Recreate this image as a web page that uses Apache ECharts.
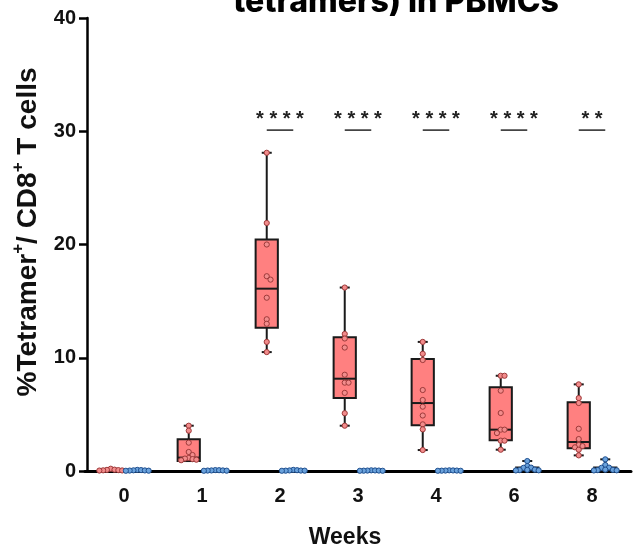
<!DOCTYPE html>
<html>
<head>
<meta charset="utf-8">
<script src="https://cdn.jsdelivr.net/npm/echarts@6/dist/echarts.min.js"></script>
<style>
html,body{margin:0;padding:0;background:#fff;}
#chart{width:636px;height:553px;}
</style>
</head>
<body>
<div id="chart"></div>
<script>
// ---- data ----
const weeks = ['0', '1', '2', '3', '4', '6', '8'];
const yTicks = [0, 10, 20, 30, 40];

// individual values, vaccinated group (red)
const redPoints = [
  [0.2, 0.12, 0.1, 0.08, 0.06, 0.05, 0.04],
  [4.0, 3.56, 2.5, 1.68, 1.41, 1.15, 1.1, 1.05, 1.0, 0.95],
  [28.1, 21.9, 20.0, 17.2, 16.9, 15.3, 13.4, 13.0, 11.4, 10.5],
  [16.2, 12.1, 11.7, 10.9, 8.5, 7.8, 7.8, 6.9, 5.1, 4.0],
  [11.4, 10.35, 9.8, 7.15, 6.27, 5.68, 4.9, 4.12, 3.68, 1.85],
  [8.41, 8.41, 7.09, 5.12, 3.65, 3.65, 3.35, 2.68, 2.68, 1.88],
  [7.65, 6.44, 6.0, 3.73, 2.82, 2.3, 2.2, 2.09, 1.88, 1.38]
];
// individual values, control group (blue)
const bluePoints = [
  [0.1, 0.08, 0.06, 0.05, 0.04, 0.03, 0.02],
  [0.08, 0.07, 0.05, 0.05, 0.04, 0.03, 0.02],
  [0.1, 0.07, 0.05, 0.04, 0.03, 0.03, 0.02],
  [0.06, 0.05, 0.04, 0.04, 0.03, 0.02, 0.02],
  [0.06, 0.05, 0.04, 0.04, 0.03, 0.02, 0.02],
  [0.88, 0.44, 0.3, 0.28, 0.12, 0.1, 0.08, 0.06, 0.05],
  [1.03, 0.53, 0.3, 0.28, 0.12, 0.1, 0.08, 0.06, 0.05]
];
// box statistics [min, q1, median, q3, max]
const redBox = [
  [0.04, 0.05, 0.08, 0.12, 0.2],
  [0.88, 0.88, 1.18, 2.8, 4.0],
  [10.5, 12.65, 16.1, 20.45, 28.1],
  [4.0, 6.45, 8.15, 11.8, 16.2],
  [1.85, 4.05, 6.0, 9.9, 11.4],
  [1.88, 2.72, 3.65, 7.4, 8.41],
  [1.38, 2.0, 2.56, 6.08, 7.65]
];
const blueBox = [
  [0.02, 0.03, 0.04, 0.07, 0.1],
  [0.02, 0.03, 0.05, 0.07, 0.08],
  [0.02, 0.03, 0.04, 0.07, 0.1],
  [0.02, 0.02, 0.04, 0.05, 0.06],
  [0.02, 0.02, 0.04, 0.05, 0.06],
  [0.05, 0.07, 0.12, 0.3, 0.88],
  [0.05, 0.07, 0.12, 0.3, 1.03]
];
// significance between groups per week
const sigLabels = ['', '', '****', '****', '****', '****', '**'];
const sigLevel = 30.1;

// ---- layout / style constants ----
const FONT = 'Liberation Sans, Arial, sans-serif';
const GRID = {left: 85, right: 5, top: 18, bottom: 82};
const Y_MAX = 40;
const PX_PER_UNIT = (553 - GRID.top - GRID.bottom) / Y_MAX;
const DOT_R = 2.6;
const SWARM_STEP = 3.8;
const GROUP_OFF = 0.17;   // fraction of band
const BOX_W = 0.285;      // fraction of band

// simple beeswarm offsets (in px) so overlapping dots spread sideways
function swarm(values) {
  const placed = [];
  return values.map(v => {
    const y = v * PX_PER_UNIT;
    for (let k = 0; k < 30; k++) {
      const cand = k === 0 ? 0 : (k % 2 ? 1 : -1) * Math.ceil(k / 2) * SWARM_STEP;
      if (placed.every(p => Math.hypot(p.x - cand, p.y - y) >= SWARM_STEP - 0.01)) {
        placed.push({x: cand, y});
        return cand;
      }
    }
    return 0;
  });
}

function pointData(groups) {
  const out = [];
  groups.forEach((vals, i) => {
    const offs = swarm(vals);
    vals.forEach((v, j) => out.push([i, v, offs[j]]));
  });
  return out;
}
function boxData(stats) {
  return stats.map((s, i) => [i].concat(s));
}

function boxRender(fill, sign) {
  return function (params, api) {
    const c = api.value(0);
    const band = api.size([1, 0])[0];
    const w = band * BOX_W;
    const x = api.coord([c, 0])[0] + sign * band * GROUP_OFF;
    const yMin = api.coord([c, api.value(1)])[1];
    const yQ1 = api.coord([c, api.value(2)])[1];
    const yMed = api.coord([c, api.value(3)])[1];
    const yQ3 = api.coord([c, api.value(4)])[1];
    const yMax = api.coord([c, api.value(5)])[1];
    const cap = w * 0.45;
    const ls = {stroke: '#1a1a1a', lineWidth: 2};
    return {
      type: 'group',
      children: [
        {type: 'line', shape: {x1: x, y1: yQ3, x2: x, y2: yMax}, style: ls},
        {type: 'line', shape: {x1: x, y1: yQ1, x2: x, y2: yMin}, style: ls},
        {type: 'line', shape: {x1: x - cap / 2, y1: yMax, x2: x + cap / 2, y2: yMax}, style: ls},
        {type: 'line', shape: {x1: x - cap / 2, y1: yMin, x2: x + cap / 2, y2: yMin}, style: ls},
        {type: 'rect', shape: {x: x - w / 2, y: yQ3, width: w, height: yQ1 - yQ3},
          style: {fill: fill, stroke: '#1a1a1a', lineWidth: 2}},
        {type: 'line', shape: {x1: x - w / 2, y1: yMed, x2: x + w / 2, y2: yMed}, style: ls}
      ]
    };
  };
}

function dotRender(fill, stroke, sign) {
  return function (params, api) {
    const c = api.value(0);
    const band = api.size([1, 0])[0];
    const p = api.coord([c, api.value(1)]);
    return {
      type: 'circle',
      shape: {cx: p[0] + sign * band * GROUP_OFF + api.value(2), cy: p[1], r: DOT_R},
      style: {fill: fill, stroke: stroke, lineWidth: 1}
    };
  };
}

function sigRender(params, api) {
  const c = api.value(0);
  const band = api.size([1, 0])[0];
  const p = api.coord([c, api.value(1)]);
  const label = sigLabels[c];
  if (!label) return null;
  return {
    type: 'group',
    children: [
      {type: 'line', shape: {x1: p[0] - band * GROUP_OFF, y1: p[1], x2: p[0] + band * GROUP_OFF, y2: p[1]},
        style: {stroke: '#333', lineWidth: 1.6}},
      {type: 'text', x: p[0], y: p[1] - 11,
        style: {text: label.split('').join(' '), fill: '#222', font: 'bold 20px ' + FONT,
          textAlign: 'center', textVerticalAlign: 'middle'}}
    ]
  };
}

const chart = echarts.init(document.getElementById('chart'), null, {renderer: 'canvas'});
chart.setOption({
  animation: false,
  backgroundColor: '#ffffff',
  grid: {left: GRID.left, right: GRID.right, top: GRID.top, bottom: GRID.bottom, containLabel: false},
  xAxis: {
    type: 'category',
    data: weeks,
    boundaryGap: true,
    axisLine: {lineStyle: {color: '#000', width: 3}},
    axisTick: {alignWithLabel: true, length: 8, lineStyle: {color: '#000', width: 2.5}},
    axisLabel: {color: '#111', fontFamily: FONT, fontWeight: 'bold', fontSize: 20, margin: 15},
    splitLine: {show: false}
  },
  yAxis: {
    type: 'value',
    min: yTicks[0],
    max: yTicks[yTicks.length - 1],
    interval: yTicks[1] - yTicks[0],
    offset: -2,
    axisLine: {show: true, lineStyle: {color: '#000', width: 2.5}},
    axisTick: {show: true, length: 8, lineStyle: {color: '#000', width: 2.5}},
    axisLabel: {color: '#111', fontFamily: FONT, fontWeight: 'bold', fontSize: 20, margin: 11},
    splitLine: {show: false}
  },
  graphic: [
    {
      type: 'text', x: 396, y: 2,
      style: {text: 'tetramers) in PBMCs', font: '800 32px Inter, "Open Sans", sans-serif',
        fill: '#000', textAlign: 'center', textVerticalAlign: 'middle'}
    },
    {
      type: 'text', x: 26, y: 232, rotation: Math.PI / 2,
      style: {
        text: '{a|%Tetramer}{s|+}{a|/ CD8}{s|+}{a| T cells}',
        textAlign: 'center', textVerticalAlign: 'middle', fill: '#111',
        rich: {
          a: {font: 'bold 28px ' + FONT, fill: '#111', lineHeight: 32, verticalAlign: 'bottom'},
          s: {font: 'bold 17px ' + FONT, fill: '#111', lineHeight: 32, verticalAlign: 'top'}
        }
      }
    },
    {
      type: 'text', x: 345, y: 538,
      style: {text: 'Weeks', font: 'bold 23px ' + FONT, fill: '#111',
        textAlign: 'center', textVerticalAlign: 'middle'}
    }
  ],
  series: [
    {type: 'custom', name: 'red box', renderItem: boxRender('#ff8080', -1),
      data: boxData(redBox), encode: {x: 0, y: [1, 2, 3, 4, 5]}, z: 2},
    {type: 'custom', name: 'blue box', renderItem: boxRender('#6fa8dc', 1),
      data: boxData(blueBox), encode: {x: 0, y: [1, 2, 3, 4, 5]}, z: 2},
    {type: 'custom', name: 'red dots', renderItem: dotRender('#f28c8c', '#9e3a3a', -1),
      data: pointData(redPoints), encode: {x: 0, y: 1}, z: 3},
    {type: 'custom', name: 'blue dots', renderItem: dotRender('#6aa2dc', '#1f4f8f', 1),
      data: pointData(bluePoints), encode: {x: 0, y: 1}, z: 3},
    {type: 'custom', name: 'significance', renderItem: sigRender,
      data: weeks.map((w, i) => [i, sigLevel]), encode: {x: 0, y: 1}, z: 4}
  ]
});
</script>
</body>
</html>
